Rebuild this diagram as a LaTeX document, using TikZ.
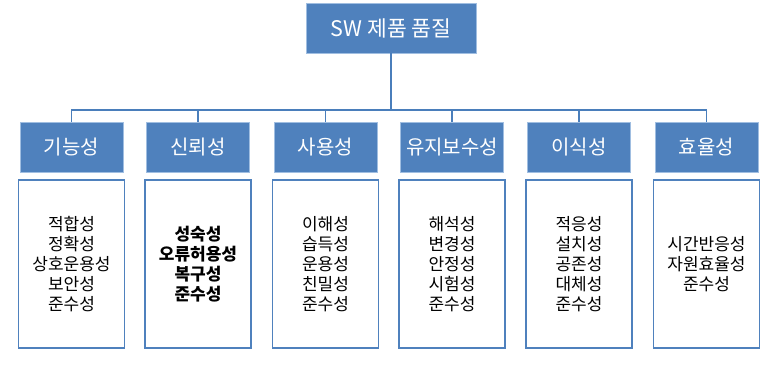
\documentclass[tikz,border=0pt]{standalone}
\usepackage{fontspec}
\setmainfont{Noto Sans CJK KR}
\usepackage{xcolor}
\definecolor{OfficeBlue}{RGB}{79,129,189}
\definecolor{LineBlue}{RGB}{74,126,187}
\definecolor{EdgeBlue}{RGB}{160,190,225}
\usepackage{tikz}
\usetikzlibrary{positioning, calc}
\tikzset{
  % Title box
  topbox/.style={
    rectangle, draw=EdgeBlue, thin,
    fill=OfficeBlue, text=white,
    minimum width=170pt, minimum height=50pt,
    font=\fontsize{21.5}{25}\selectfont, inner sep=1pt
  },
  % Category boxes
  catbox/.style={topbox, minimum width=103pt, font=\fontsize{20}{24}\selectfont},
  % Sub-characteristic boxes
  itembox/.style={
    rectangle, draw=OfficeBlue, line width=1.5pt,
    fill=white, text=black, align=center,
    minimum width=106pt, minimum height=168pt,
    font=\fontsize{17}{20}\selectfont
  },
  itembox bold/.style={itembox, font=\fontsize{17}{20}\selectfont\bfseries},
  % Tree lines
  conn/.style={draw=LineBlue, line width=1.5pt},
}
\begin{document}
\begin{tikzpicture}[x=1pt, y=-1pt]
  \useasboundingbox (0,0) rectangle (773,366);

  \node[topbox] (top) at (391,28) {SW 제품 품질};
  \coordinate (bus) at (391,110);

  % Categories and their items
  \foreach \i/\x/\name/\sty/\items in {
    1/71.5/기능성/itembox/{적합성\\정확성\\상호운용성\\보안성\\준수성},
    2/198/신뢰성/itembox bold/{성숙성\\오류허용성\\복구성\\준수성},
    3/325.5/사용성/itembox/{이해성\\습득성\\운용성\\친밀성\\준수성},
    4/452/유지보수성/itembox/{해석성\\변경성\\안정성\\시험성\\준수성},
    5/579/이식성/itembox/{적응성\\설치성\\공존성\\대체성\\준수성},
    6/706.5/효율성/itembox/{시간반응성\\자원효율성\\준수성}}{
    \node[catbox] (cat\i) at (\x,147) {\name};
    \node[\sty] (item\i) at (\x,264) {\items};
  }

  % Tree
  \draw[conn] (top.south) -- (bus);
  \draw[conn] (cat1.north) |- (bus -| cat6.north) -- (cat6.north);
  \foreach \i in {2,...,5}{
    \draw[conn] (cat\i.north) -- (cat\i.north |- bus);
  }
\end{tikzpicture}
\end{document}
